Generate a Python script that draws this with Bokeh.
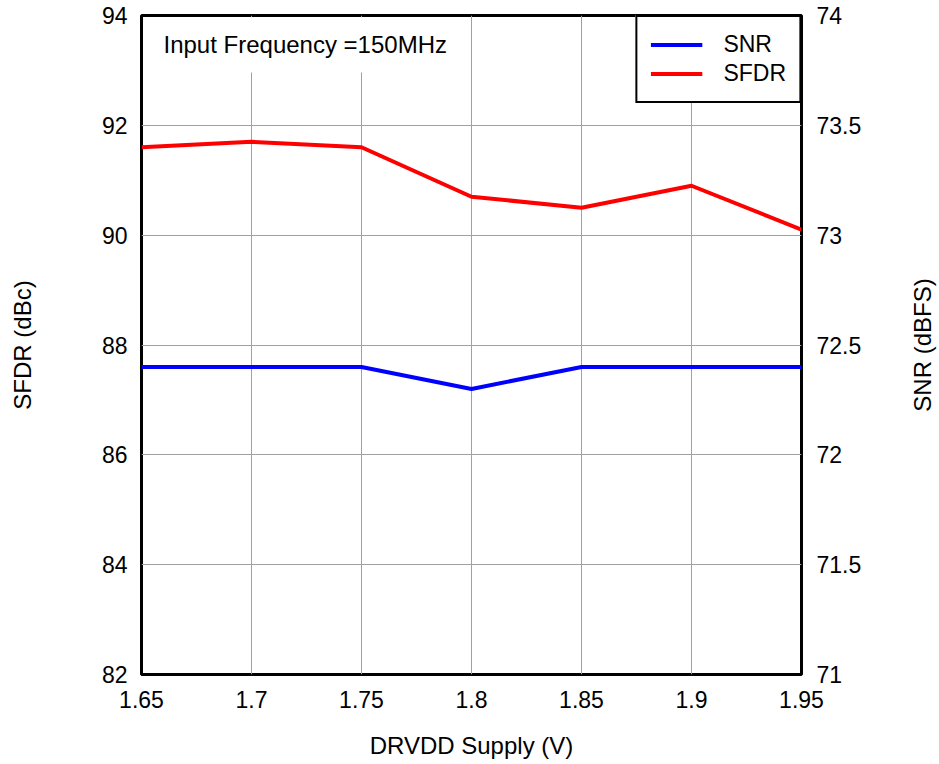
from bokeh.plotting import figure
from bokeh.layouts import row
from bokeh.models import (Range1d, LinearAxis, FixedTicker, CustomJSTickFormatter,
                          Legend, LegendItem, Label, BoxAnnotation)
from bokeh.embed import file_html
from bokeh.resources import INLINE
import math

# ---- data ----
voltage = [1.65, 1.7, 1.75, 1.8, 1.85, 1.9, 1.95]
sfdr = [91.6, 91.7, 91.6, 90.7, 90.5, 90.9, 90.1]
snr = [72.4, 72.4, 72.4, 72.3, 72.4, 72.4, 72.4]

x_ticks = [1.65, 1.7, 1.75, 1.8, 1.85, 1.9, 1.95]
left_ticks = [82, 84, 86, 88, 90, 92, 94]
right_ticks = [71, 71.5, 72, 72.5, 73, 73.5, 74]

x_label = "DRVDD Supply (V)"
left_label = "SFDR (dBc)"
right_label = "SNR (dBFS)"
note_text = "Input Frequency =150MHz"

FONT = "Liberation Sans"
TOP, BOTTOM = 15, 90

p = figure(width=905, height=764, output_backend="svg", toolbar_location=None,
           x_range=Range1d(x_ticks[0], x_ticks[-1]),
           y_range=Range1d(left_ticks[0], left_ticks[-1]),
           min_border_left=141, min_border_right=104,
           min_border_top=TOP, min_border_bottom=BOTTOM)
p.extra_y_ranges = {"snr": Range1d(right_ticks[0], right_ticks[-1])}

p.outline_line_color = "black"
p.outline_line_width = 3
p.background_fill_color = "white"
p.border_fill_color = "white"

fmt = CustomJSTickFormatter(code="return String(tick)")

def style_axis(ax, ticks, label, lab_standoff, tick_standoff):
    ax.ticker = FixedTicker(ticks=ticks)
    ax.formatter = fmt
    if label:
        ax.axis_label = label
    ax.axis_line_color = None
    ax.major_tick_line_color = None
    ax.minor_tick_line_color = None
    ax.major_tick_out = 0
    ax.major_tick_in = 0
    ax.minor_tick_out = 0
    ax.minor_tick_in = 0
    ax.major_label_text_font = FONT
    ax.major_label_text_font_size = "23px"
    ax.major_label_text_color = "black"
    ax.major_label_standoff = tick_standoff
    ax.axis_label_text_font = FONT
    ax.axis_label_text_font_size = "24px"
    ax.axis_label_text_font_style = "normal"
    ax.axis_label_text_color = "black"
    ax.axis_label_standoff = lab_standoff

style_axis(p.xaxis[0], x_ticks, x_label, 21, 16)
style_axis(p.yaxis[0], left_ticks, left_label, 63, 14)

raxis = LinearAxis(y_range_name="snr")
style_axis(raxis, right_ticks, None, 0, 15)
p.add_layout(raxis, "right")

p.xgrid.ticker = FixedTicker(ticks=x_ticks)
p.ygrid.ticker = FixedTicker(ticks=left_ticks)
for g in (p.xgrid[0], p.ygrid[0]):
    g.grid_line_color = "#a0a0a0"
    g.grid_line_width = 1

# white box behind the note text (covers grid)
p.add_layout(BoxAnnotation(left=1.6515, right=1.79, bottom=92.96, top=93.97,
                           fill_color="white", fill_alpha=1.0, line_color=None,
                           level="underlay"))

r_snr = p.line(voltage, snr, y_range_name="snr", line_color="#0000ff", line_width=4)
r_sfdr = p.line(voltage, sfdr, line_color="#ff0000", line_width=4)

legend = Legend(items=[LegendItem(label="SNR", renderers=[r_snr]),
                       LegendItem(label="SFDR", renderers=[r_sfdr])],
                location="top_right", margin=0, padding=13, spacing=0,
                glyph_width=52, glyph_height=29, label_height=29, label_standoff=21,
                label_text_font=FONT, label_text_font_size="23px",
                label_text_color="black",
                border_line_color="black", border_line_width=2, border_line_alpha=1.0,
                background_fill_color="white", background_fill_alpha=1.0)
p.add_layout(legend)

p.add_layout(Label(x=x_ticks[0], y=left_ticks[-1], x_offset=22, y_offset=-29,
                   text=note_text, text_font=FONT, text_font_size="24px",
                   text_baseline="alphabetic", text_color="black"))

# narrow strip on the right holding the SNR axis title (reads bottom to top)
q = figure(width=34, height=764, output_backend="svg", toolbar_location=None,
           x_range=Range1d(0, 1),
           y_range=Range1d(right_ticks[0], right_ticks[-1]),
           min_border_left=0, min_border_right=0,
           min_border_top=TOP, min_border_bottom=BOTTOM)
q.axis.visible = False
q.grid.visible = False
q.outline_line_color = None
q.background_fill_color = "white"
q.border_fill_color = "white"
q.add_layout(Label(x=0.5, y=(right_ticks[0] + right_ticks[-1]) / 2, angle=math.pi / 2,
                   text=right_label, text_font=FONT, text_font_size="24px",
                   text_align="center", text_baseline="middle", text_color="black"))

layout = row(p, q, spacing=0)
open("out.html", "w").write(file_html(layout, INLINE))
